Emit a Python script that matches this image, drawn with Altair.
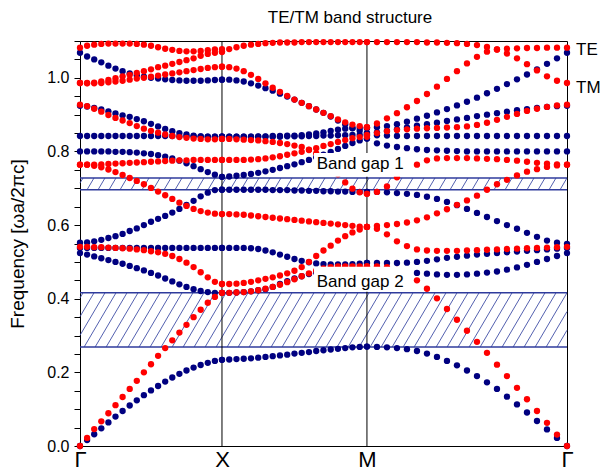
import numpy as np
import pandas as pd
import altair as alt

# ---------------- data ----------------
k_ticks = [0.0, 1.0, 2.021, 3.43]          # positions of Γ, X, M, Γ
k_names = ["Γ", "X", "M", "Γ"]

# Γ-X segment (21 k-points each)
te_gx = [
    [0, 0.016, 0.032, 0.048, 0.064, 0.08, 0.095, 0.11, 0.124, 0.138, 0.151, 0.163, 0.175, 0.186, 0.196, 0.205, 0.213, 0.22, 0.226, 0.231, 0.234],
    [0.524, 0.52, 0.515, 0.51, 0.505, 0.5, 0.495, 0.489, 0.483, 0.477, 0.47, 0.463, 0.455, 0.447, 0.439, 0.432, 0.426, 0.421, 0.418, 0.416, 0.416],
    [0.538, 0.538, 0.538, 0.538, 0.538, 0.538, 0.538, 0.538, 0.538, 0.538, 0.538, 0.538, 0.538, 0.538, 0.538, 0.538, 0.538, 0.538, 0.538, 0.538, 0.538],
    [0.552, 0.553, 0.556, 0.56, 0.565, 0.57, 0.576, 0.584, 0.591, 0.6, 0.609, 0.617, 0.625, 0.634, 0.644, 0.655, 0.666, 0.678, 0.688, 0.695, 0.696],
    [0.8, 0.8, 0.8, 0.8, 0.8, 0.799, 0.799, 0.798, 0.797, 0.795, 0.793, 0.79, 0.786, 0.781, 0.775, 0.768, 0.76, 0.752, 0.744, 0.737, 0.731],
    [0.842, 0.842, 0.842, 0.842, 0.842, 0.842, 0.842, 0.842, 0.842, 0.842, 0.842, 0.842, 0.842, 0.842, 0.841, 0.841, 0.841, 0.841, 0.84, 0.84, 0.84],
    [0.924, 0.922, 0.918, 0.914, 0.909, 0.903, 0.898, 0.894, 0.888, 0.882, 0.875, 0.868, 0.861, 0.855, 0.85, 0.846, 0.843, 0.841, 0.84, 0.84, 0.84],
    [1.068, 1.058, 1.05, 1.042, 1.033, 1.025, 1.018, 1.012, 1.007, 1.003, 1.0, 0.998, 0.996, 0.994, 0.993, 0.992, 0.992, 0.992, 0.993, 0.994, 0.995],
]
tm_gx = [
    [0, 0.022, 0.046, 0.067, 0.089, 0.111, 0.133, 0.155, 0.177, 0.2, 0.222, 0.245, 0.266, 0.287, 0.308, 0.329, 0.35, 0.37, 0.389, 0.405, 0.416],
    [0.541, 0.541, 0.54, 0.54, 0.539, 0.538, 0.537, 0.536, 0.534, 0.532, 0.529, 0.526, 0.522, 0.516, 0.508, 0.498, 0.486, 0.472, 0.458, 0.446, 0.44],
    [0.764, 0.764, 0.761, 0.757, 0.751, 0.744, 0.736, 0.728, 0.72, 0.711, 0.701, 0.691, 0.681, 0.671, 0.661, 0.652, 0.644, 0.638, 0.634, 0.631, 0.63],
    [0.764, 0.764, 0.764, 0.765, 0.766, 0.767, 0.768, 0.769, 0.77, 0.771, 0.772, 0.773, 0.774, 0.775, 0.776, 0.776, 0.777, 0.777, 0.777, 0.777, 0.777],
    [0.927, 0.923, 0.916, 0.908, 0.899, 0.891, 0.884, 0.877, 0.869, 0.862, 0.856, 0.851, 0.846, 0.842, 0.839, 0.837, 0.835, 0.834, 0.833, 0.833, 0.834],
    [0.986, 0.985, 0.985, 0.986, 0.988, 0.99, 0.992, 0.995, 0.998, 1.0, 1.003, 1.006, 1.009, 1.012, 1.015, 1.018, 1.021, 1.024, 1.027, 1.029, 1.03],
    [0.986, 0.986, 0.987, 0.99, 0.994, 0.999, 1.004, 1.008, 1.013, 1.018, 1.023, 1.029, 1.033, 1.038, 1.043, 1.048, 1.053, 1.06, 1.065, 1.068, 1.07],
    [1.082, 1.087, 1.09, 1.092, 1.093, 1.093, 1.093, 1.093, 1.092, 1.09, 1.087, 1.083, 1.079, 1.076, 1.073, 1.072, 1.072, 1.073, 1.075, 1.077, 1.078],
]

# X-M segment
te_xm = [
    [0.234, 0.235, 0.236, 0.237, 0.238, 0.24, 0.242, 0.244, 0.246, 0.248, 0.251, 0.253, 0.255, 0.258, 0.26, 0.262, 0.264, 0.266, 0.268, 0.269, 0.27],
    [0.416, 0.416, 0.417, 0.418, 0.42, 0.423, 0.426, 0.432, 0.44, 0.448, 0.455, 0.461, 0.467, 0.471, 0.474, 0.476, 0.477, 0.477, 0.477, 0.477, 0.477],
    [0.538, 0.538, 0.538, 0.538, 0.537, 0.535, 0.531, 0.526, 0.52, 0.514, 0.508, 0.503, 0.499, 0.496, 0.494, 0.493, 0.493, 0.493, 0.494, 0.495, 0.497],
    [0.696, 0.696, 0.696, 0.696, 0.696, 0.696, 0.696, 0.695, 0.695, 0.695, 0.694, 0.694, 0.693, 0.693, 0.692, 0.692, 0.691, 0.691, 0.69, 0.69, 0.69],
    [0.731, 0.732, 0.734, 0.736, 0.739, 0.742, 0.746, 0.75, 0.755, 0.76, 0.765, 0.771, 0.777, 0.784, 0.791, 0.799, 0.807, 0.815, 0.823, 0.83, 0.835],
    [0.84, 0.84, 0.84, 0.84, 0.84, 0.84, 0.84, 0.84, 0.84, 0.841, 0.841, 0.841, 0.842, 0.842, 0.843, 0.843, 0.844, 0.844, 0.845, 0.845, 0.845],
    [0.84, 0.84, 0.84, 0.84, 0.84, 0.841, 0.841, 0.842, 0.842, 0.843, 0.843, 0.844, 0.846, 0.849, 0.852, 0.856, 0.859, 0.862, 0.863, 0.864, 0.864],
    [0.995, 0.995, 0.993, 0.99, 0.985, 0.979, 0.972, 0.965, 0.957, 0.949, 0.941, 0.932, 0.923, 0.914, 0.905, 0.895, 0.884, 0.874, 0.864, 0.856, 0.85],
]
tm_xm = [
    [0.416, 0.416, 0.417, 0.418, 0.42, 0.423, 0.427, 0.432, 0.438, 0.445, 0.453, 0.461, 0.469, 0.476, 0.482, 0.486, 0.488, 0.488, 0.488, 0.488, 0.488],
    [0.44, 0.44, 0.441, 0.443, 0.446, 0.45, 0.454, 0.458, 0.463, 0.469, 0.476, 0.486, 0.5, 0.516, 0.531, 0.544, 0.558, 0.57, 0.58, 0.588, 0.595],
    [0.63, 0.63, 0.629, 0.628, 0.626, 0.624, 0.622, 0.62, 0.618, 0.616, 0.614, 0.612, 0.61, 0.608, 0.606, 0.604, 0.602, 0.6, 0.598, 0.596, 0.595],
    [0.777, 0.777, 0.777, 0.777, 0.778, 0.779, 0.781, 0.784, 0.787, 0.791, 0.795, 0.799, 0.804, 0.809, 0.815, 0.82, 0.826, 0.831, 0.836, 0.839, 0.84],
    [0.834, 0.834, 0.833, 0.832, 0.831, 0.83, 0.828, 0.826, 0.823, 0.82, 0.816, 0.812, 0.805, 0.795, 0.78, 0.76, 0.738, 0.716, 0.699, 0.689, 0.685],
    [1.03, 1.029, 1.025, 1.018, 1.008, 0.997, 0.985, 0.973, 0.962, 0.951, 0.941, 0.932, 0.923, 0.914, 0.905, 0.896, 0.887, 0.879, 0.873, 0.869, 0.866],
    [1.072, 1.078, 1.083, 1.087, 1.09, 1.092, 1.094, 1.095, 1.096, 1.096, 1.096, 1.097, 1.097, 1.097, 1.097, 1.097, 1.097, 1.097, 1.097, 1.097, 1.097],
]

# M-Γ segment
te_mg = [
    [0.27, 0.269, 0.268, 0.266, 0.263, 0.258, 0.251, 0.242, 0.231, 0.219, 0.205, 0.19, 0.173, 0.155, 0.134, 0.113, 0.091, 0.068, 0.045, 0.022, 0],
    [0.477, 0.476, 0.475, 0.474, 0.472, 0.47, 0.468, 0.466, 0.465, 0.465, 0.466, 0.468, 0.471, 0.474, 0.479, 0.485, 0.492, 0.5, 0.508, 0.516, 0.524],
    [0.497, 0.497, 0.497, 0.497, 0.498, 0.5, 0.503, 0.507, 0.511, 0.514, 0.517, 0.52, 0.522, 0.524, 0.526, 0.528, 0.53, 0.532, 0.534, 0.536, 0.538],
    [0.69, 0.69, 0.689, 0.687, 0.685, 0.682, 0.677, 0.671, 0.663, 0.654, 0.644, 0.633, 0.622, 0.611, 0.6, 0.59, 0.579, 0.568, 0.558, 0.552, 0.549],
    [0.835, 0.822, 0.816, 0.812, 0.809, 0.806, 0.804, 0.803, 0.802, 0.801, 0.8, 0.8, 0.8, 0.8, 0.8, 0.8, 0.8, 0.8, 0.8, 0.8, 0.8],
    [0.845, 0.844, 0.843, 0.842, 0.842, 0.842, 0.842, 0.842, 0.842, 0.842, 0.842, 0.842, 0.842, 0.842, 0.842, 0.842, 0.842, 0.842, 0.842, 0.842, 0.842],
    [0.85, 0.852, 0.856, 0.86, 0.865, 0.87, 0.874, 0.878, 0.883, 0.887, 0.891, 0.896, 0.9, 0.904, 0.908, 0.912, 0.915, 0.918, 0.921, 0.923, 0.924],
    [0.864, 0.866, 0.869, 0.874, 0.881, 0.889, 0.897, 0.906, 0.915, 0.925, 0.935, 0.946, 0.958, 0.97, 0.983, 0.996, 1.009, 1.023, 1.038, 1.053, 1.068],
]
tm_mg = [
    [0.488, 0.488, 0.486, 0.478, 0.466, 0.45, 0.427, 0.401, 0.372, 0.343, 0.313, 0.283, 0.253, 0.221, 0.19, 0.158, 0.127, 0.095, 0.063, 0.031, 0],
    [0.595, 0.59, 0.575, 0.556, 0.543, 0.534, 0.531, 0.53, 0.53, 0.53, 0.531, 0.532, 0.533, 0.534, 0.535, 0.536, 0.537, 0.538, 0.539, 0.54, 0.541],
    [0.595, 0.598, 0.6, 0.603, 0.607, 0.613, 0.621, 0.632, 0.643, 0.655, 0.667, 0.68, 0.696, 0.711, 0.723, 0.735, 0.745, 0.752, 0.758, 0.762, 0.764],
    [0.685, 0.69, 0.705, 0.73, 0.75, 0.764, 0.776, 0.781, 0.782, 0.782, 0.782, 0.781, 0.78, 0.779, 0.777, 0.775, 0.772, 0.769, 0.767, 0.765, 0.764],
    [0.845, 0.85, 0.855, 0.858, 0.86, 0.862, 0.863, 0.864, 0.865, 0.866, 0.868, 0.872, 0.878, 0.886, 0.894, 0.902, 0.91, 0.916, 0.921, 0.925, 0.927],
    [0.866, 0.876, 0.89, 0.904, 0.92, 0.937, 0.956, 0.976, 0.997, 1.018, 1.039, 1.057, 1.071, 1.077, 1.079, 1.08, 1.081, 1.081, 1.082, 1.082, 1.082],
    [1.097, 1.097, 1.097, 1.097, 1.097, 1.097, 1.096, 1.096, 1.095, 1.094, 1.092, 1.089, 1.084, 1.077, 1.066, 1.053, 1.037, 1.02, 1.004, 0.992, 0.986],
]

# band gaps and their labels
gap_lo = [0.269, 0.696]
gap_hi = [0.416, 0.728]
gap_names = ["Band gap 2", "Band gap 1"]
label_k = [1.667, 1.667]
label_base = [0.431, 0.752]
box_k = [1.648, 2.345]
box_lo = [0.419, 0.731]
box_hi = [0.487, 0.796]

title_text = "TE/TM band structure"
pol_names = ["TE", "TM"]
pol_colors = ["#000080", "#ff0000"]

# ---------------- build tables ----------------
W, H = 487, 405
KMAX = k_ticks[-1]
FMAX = 1.1

rows = []
for s, (te, tm) in enumerate([(te_gx, tm_gx), (te_xm, tm_xm), (te_mg, tm_mg)]):
    k0, k1 = k_ticks[s], k_ticks[s + 1]
    for pol, bands in ((pol_names[0], te), (pol_names[1], tm)):
        for vals in bands:
            n = len(vals)
            for j, v in enumerate(vals):
                rows.append({"k": k0 + (k1 - k0) * j / (n - 1), "f": v, "pol": pol})
pts = pd.DataFrame(rows)

# hatch lines inside gaps (pattern geometry, in pixel space -> data units)
HATCH_STEP = 11.0
HATCH_TAN = 1.7
hatch = []
for lo, hi in zip(gap_lo, gap_hi):
    y0 = lo / FMAX * H
    y1 = hi / FMAX * H
    run = (y1 - y0) / HATCH_TAN
    c = -run + 3.0
    while c < W:
        xa, ya, xb, yb = c, y0, c + run, y1
        if xa < 0:
            ya = y0 + (0 - c) * HATCH_TAN
            xa = 0.0
        if xb > W:
            yb = y0 + (W - c) * HATCH_TAN
            xb = float(W)
        if xb > xa:
            hatch.append({"k": xa / W * KMAX, "f": ya / H * FMAX,
                          "k2": xb / W * KMAX, "f2": yb / H * FMAX})
        c += HATCH_STEP
hatch = pd.DataFrame(hatch)

edges = pd.DataFrame({"f": gap_lo + gap_hi})
vlines = pd.DataFrame({"k": k_ticks[1:3]})
boxes = pd.DataFrame({"k": [box_k[0]] * 2, "k2": [box_k[1]] * 2, "f": box_lo, "f2": box_hi})
labels = pd.DataFrame({"k": label_k, "f": label_base, "t": gap_names})

FONT = "Liberation Sans"
xs = alt.Scale(domain=[0, KMAX], nice=False, zero=False)
ys = alt.Scale(domain=[0, FMAX], nice=False, zero=False)

name_expr = ("datum.value < 0.5 ? '{0}' : datum.value < 1.5 ? '{1}' : "
             "datum.value < 2.5 ? '{2}' : '{3}'").format(*k_names)

x_axis = alt.Axis(values=k_ticks, labelExpr=name_expr, title=None, ticks=False,
                  domain=False, grid=False, labelFontSize=22, labelFont=FONT,
                  labelColor="black", labelPadding=3, labelOverlap=False, labelFlush=False)
y_axis = alt.Axis(values=[round(0.05 * i, 2) for i in range(23)],
                  labelExpr="abs(datum.value*5 - round(datum.value*5)) < 0.001 ? format(datum.value, '.1f') : ''",
                  title="Frequency [ωa/2πc]", titleFontSize=19, titleFontWeight="normal",
                  titleFont=FONT, titleColor="black", titlePadding=19,
                  tickSize=6, tickColor="black", domain=False, grid=False,
                  labelFontSize=16, labelFont=FONT, labelColor="black", labelPadding=5)

XE = alt.X("k:Q", scale=xs, axis=x_axis)
YE = alt.Y("f:Q", scale=ys, axis=y_axis)

hatch_layer = alt.Chart(hatch).mark_rule(color="#3f4ea6", strokeWidth=0.9).encode(
    x=XE, y=YE, x2="k2:Q", y2="f2:Q")

edge_layer = alt.Chart(edges).mark_rule(color="#2f3b9c", strokeWidth=1.5).encode(y=YE)

vline_layer = alt.Chart(vlines).mark_rule(color="black", strokeWidth=1).encode(x=XE)

color = alt.Color("pol:N", scale=alt.Scale(domain=pol_names, range=pol_colors), legend=None)
te_layer = alt.Chart(pts).transform_filter(alt.datum.pol == pol_names[0]).mark_circle(
    size=40, opacity=1).encode(x=XE, y=YE, color=color)
tm_layer = alt.Chart(pts).transform_filter(alt.datum.pol == pol_names[1]).mark_circle(
    size=40, opacity=1).encode(x=XE, y=YE, color=color)

box_layer = alt.Chart(boxes).mark_rect(color="white").encode(
    x=XE, x2="k2:Q", y=YE, y2="f2:Q")

label_layer = alt.Chart(labels).mark_text(align="left", baseline="alphabetic", fontSize=17,
                                          font=FONT, color="black").encode(
    x=XE, y=YE, text="t:N")

title_layer = alt.Chart(pd.DataFrame({"t": [title_text]})).mark_text(
    align="center", baseline="middle", fontSize=17, font=FONT, color="black").encode(
    x=alt.value(270), y=alt.value(-23), text="t:N")

side = pd.DataFrame({"t": pol_names, "yy": [9, 47]})
side_layer = alt.Chart(side).mark_text(align="left", baseline="middle", fontSize=17,
                                       font=FONT, color="black").encode(
    x=alt.value(496), y=alt.Y("yy:Q", scale=None, axis=None), text="t:N")

chart = alt.layer(hatch_layer, edge_layer, vline_layer, te_layer, tm_layer,
                  box_layer, label_layer, title_layer, side_layer).properties(
    width=W, height=H,
    autosize=alt.AutoSizeParams(type="none"),
    padding={"left": 80, "top": 41, "right": 34, "bottom": 27},
    background="white",
).configure_view(stroke="black", strokeWidth=1)

chart.save("out.html", embed_options={"renderer": "svg", "actions": False})
